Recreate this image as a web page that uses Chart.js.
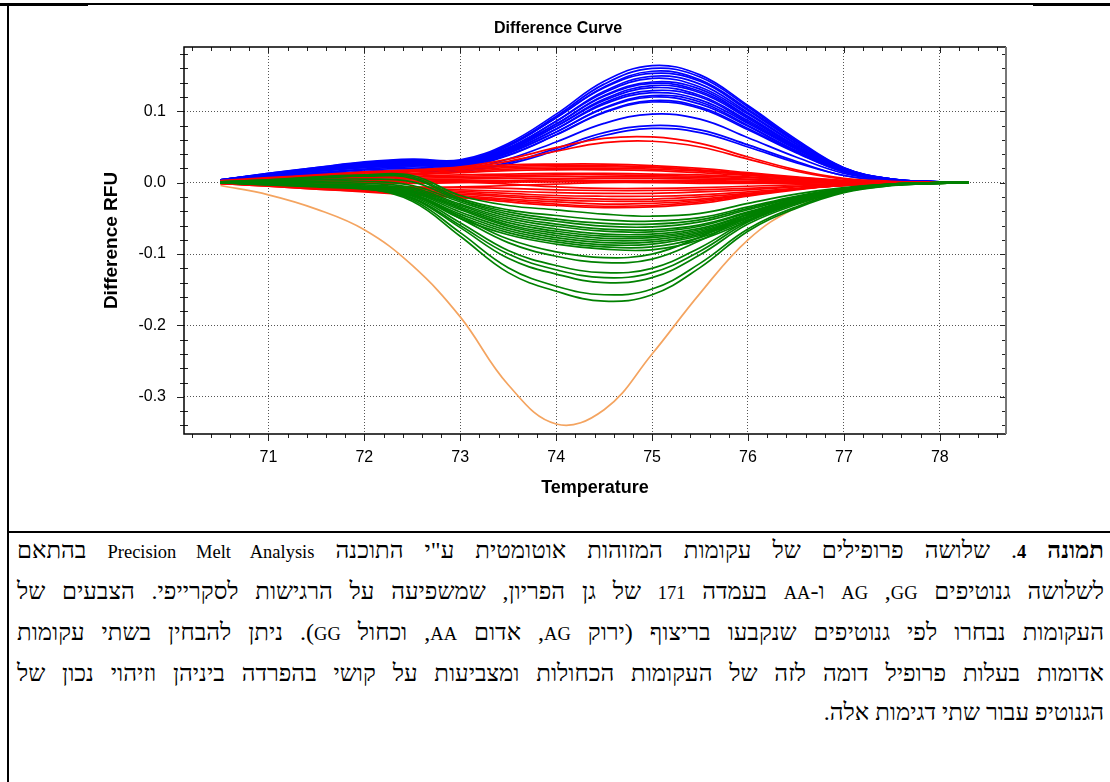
<!DOCTYPE html>
<html lang="he">
<head>
<meta charset="utf-8">
<title>Difference Curve</title>
<script src="https://cdn.jsdelivr.net/npm/chart.js@4.4.1/dist/chart.umd.min.js"></script>
<style>
    html, body {
        margin: 0;
        padding: 0;
        background: #fff;
    }
    #page {
        position: relative;
        width: 1110px;
        height: 782px;
        overflow: hidden;
    }
    #chart {
        position: absolute;
        left: 0;
        top: 0;
    }
    .rule {
        position: absolute;
        background: #000;
    }
    #caption {
        position: absolute;
        left: 17px;
        top: 531px;
        width: 1087px;
        direction: rtl;
        font-family: 'Liberation Serif', 'DejaVu Serif', serif;
        font-size: 24px;
        line-height: 39px;
        color: #000;
    }
    #caption .lat {
        font-size: 18.5px;
    }
    #caption .line {
        text-align: justify;
        text-align-last: justify;
        white-space: nowrap;
    }
    #caption .line.last {
        text-align-last: right;
    }
</style>
</head>
<body>
<div id="page">
    <div class="rule" style="left:0; top:3px; width:1110px; height:2px;"></div>
    <div class="rule" style="left:0; top:3px; width:88px; height:3px;"></div>
    <div class="rule" style="left:1033px; top:3px; width:77px; height:3px;"></div>
    <div class="rule" style="left:7px; top:3px; width:2px; height:779px;"></div>
    <div class="rule" style="left:7px; top:531px; width:1103px; height:2px;"></div>

    <canvas id="chart" width="1110" height="531"></canvas>

    <div id="caption">
        <div class="line"><b>תמונה <span class="lat">4</span></b>. שלושה פרופילים של עקומות המזוהות אוטומטית ע"י התוכנה <span class="lat">Precision Melt Analysis</span> בהתאם</div>
        <div class="line">לשלושה גנוטיפים <span class="lat">GG</span>,&rlm; <span class="lat">AG</span> ו-<span class="lat">AA</span> בעמדה <span class="lat">171</span> של גן הפריון, שמשפיעה על הרגישות לסקרייפי. הצבעים של</div>
        <div class="line">העקומות נבחרו לפי גנוטיפים שנקבעו בריצוף (ירוק <span class="lat">AG</span>, אדום <span class="lat">AA</span>, וכחול <span class="lat">GG</span>). ניתן להבחין בשתי עקומות</div>
        <div class="line">אדומות בעלות פרופיל דומה לזה של העקומות הכחולות ומצביעות על קושי בהפרדה ביניהן וזיהוי נכון של</div>
        <div class="line last">הגנוטיפ עבור שתי דגימות אלה.</div>
    </div>
</div>

<script>
const temps = [70.5, 71.0, 71.5, 72.0, 72.5, 73.0, 73.5, 74.0, 74.5, 75.0, 75.5, 76.0, 76.5, 77.0, 77.5, 78.0, 78.3];

// GG
const blueCurves = [
    [0.004, 0.013, 0.021, 0.029, 0.033, 0.032, 0.055, 0.096, 0.142, 0.164, 0.151, 0.108, 0.061, 0.021, 0.005, 0.001, 0],
    [0.004, 0.012, 0.020, 0.027, 0.031, 0.030, 0.053, 0.093, 0.138, 0.160, 0.148, 0.106, 0.059, 0.021, 0.005, 0.001, 0],
    [0.004, 0.012, 0.020, 0.026, 0.030, 0.029, 0.051, 0.091, 0.134, 0.156, 0.144, 0.103, 0.058, 0.020, 0.005, 0.001, 0],
    [0.004, 0.013, 0.021, 0.028, 0.032, 0.031, 0.052, 0.091, 0.133, 0.153, 0.142, 0.101, 0.057, 0.020, 0.005, 0.001, 0],
    [0.003, 0.011, 0.018, 0.025, 0.028, 0.027, 0.048, 0.086, 0.128, 0.149, 0.138, 0.098, 0.055, 0.019, 0.005, 0.001, 0],
    [0.004, 0.012, 0.020, 0.026, 0.030, 0.029, 0.049, 0.086, 0.126, 0.146, 0.134, 0.096, 0.054, 0.019, 0.005, 0.001, 0],
    [0.003, 0.011, 0.018, 0.024, 0.027, 0.026, 0.046, 0.082, 0.122, 0.141, 0.131, 0.093, 0.052, 0.018, 0.004, 0.001, 0],
    [0.003, 0.012, 0.019, 0.026, 0.029, 0.028, 0.048, 0.082, 0.121, 0.139, 0.128, 0.092, 0.051, 0.018, 0.004, 0.001, 0],
    [0.003, 0.010, 0.017, 0.023, 0.026, 0.025, 0.045, 0.079, 0.117, 0.136, 0.126, 0.090, 0.050, 0.018, 0.004, 0.001, 0],
    [0.003, 0.011, 0.018, 0.025, 0.028, 0.027, 0.046, 0.079, 0.115, 0.133, 0.122, 0.087, 0.049, 0.017, 0.004, 0.001, 0],
    [0.003, 0.010, 0.016, 0.022, 0.025, 0.024, 0.043, 0.075, 0.112, 0.129, 0.120, 0.085, 0.048, 0.017, 0.004, 0.001, 0],
    [0.003, 0.011, 0.018, 0.024, 0.027, 0.026, 0.044, 0.075, 0.110, 0.126, 0.116, 0.083, 0.047, 0.016, 0.004, 0.001, 0],
    [0.003, 0.010, 0.016, 0.021, 0.024, 0.023, 0.041, 0.071, 0.105, 0.122, 0.113, 0.080, 0.045, 0.016, 0.004, 0.001, 0],
    [0.003, 0.010, 0.017, 0.023, 0.026, 0.025, 0.042, 0.071, 0.104, 0.120, 0.110, 0.079, 0.044, 0.016, 0.004, 0.001, 0],
    [0.003, 0.009, 0.014, 0.019, 0.022, 0.021, 0.038, 0.067, 0.099, 0.115, 0.106, 0.076, 0.043, 0.015, 0.004, 0.001, 0],
    [0.003, 0.010, 0.016, 0.021, 0.024, 0.023, 0.039, 0.067, 0.098, 0.113, 0.104, 0.074, 0.042, 0.015, 0.004, 0.001, 0],
    [0.002, 0.008, 0.013, 0.018, 0.020, 0.019, 0.033, 0.057, 0.083, 0.096, 0.089, 0.063, 0.036, 0.013, 0.003, 0, 0],
    [0.002, 0.007, 0.012, 0.016, 0.018, 0.017, 0.028, 0.048, 0.070, 0.080, 0.074, 0.053, 0.030, 0.010, 0.003, 0, 0],
    [0.002, 0.006, 0.010, 0.014, 0.016, 0.016, 0.026, 0.045, 0.066, 0.076, 0.070, 0.050, 0.028, 0.010, 0.002, 0, 0],
];

// AA
const redCurves = [
    [0.003, 0.007, 0.011, 0.015, 0.018, 0.022, 0.033, 0.049, 0.062, 0.064, 0.055, 0.036, 0.018, 0.006, 0.002, 0, 0],
    [0.002, 0.006, 0.010, 0.014, 0.016, 0.020, 0.030, 0.044, 0.056, 0.058, 0.050, 0.033, 0.016, 0.005, 0.001, 0, 0],
    [0.002, 0.006, 0.010, 0.014, 0.017, 0.021, 0.025, 0.026, 0.026, 0.024, 0.020, 0.014, 0.008, 0.003, 0.001, 0, 0],
    [0.002, 0.005, 0.009, 0.012, 0.015, 0.019, 0.023, 0.024, 0.024, 0.022, 0.018, 0.013, 0.007, 0.003, 0.001, 0, 0],
    [0.001, 0.004, 0.007, 0.010, 0.013, 0.017, 0.021, 0.022, 0.022, 0.021, 0.017, 0.012, 0.007, 0.002, 0.001, 0, 0],
    [0.001, 0.004, 0.006, 0.009, 0.012, 0.015, 0.019, 0.020, 0.020, 0.019, 0.016, 0.011, 0.006, 0.002, 0.001, 0, 0],
    [0.001, 0.003, 0.005, 0.008, 0.011, 0.014, 0.017, 0.018, 0.018, 0.017, 0.014, 0.010, 0.006, 0.002, 0.001, 0, 0],
    [0.001, 0.003, 0.005, 0.007, 0.009, 0.011, 0.012, 0.013, 0.013, 0.012, 0.011, 0.008, 0.005, 0.002, 0.001, 0, 0],
    [0.001, 0.002, 0.004, 0.006, 0.008, 0.009, 0.010, 0.011, 0.011, 0.010, 0.009, 0.007, 0.004, 0.002, 0, 0, 0],
    [0.001, 0.002, 0.003, 0.004, 0.006, 0.007, 0.008, 0.009, 0.008, 0.008, 0.007, 0.005, 0.003, 0.001, 0, 0, 0],
    [0, 0.001, 0.002, 0.003, 0.004, 0.005, 0.006, 0.006, 0.006, 0.006, 0.005, 0.004, 0.002, 0.001, 0, 0, 0],
    [0, 0.001, 0.001, 0.002, 0.002, 0.003, 0.003, 0.004, 0.003, 0.003, 0.003, 0.002, 0.001, 0.001, 0, 0, 0],
    [0, 0, 0, 0, 0.001, 0.001, 0.001, 0.001, 0.001, 0.001, 0.001, 0.001, 0, 0, 0, 0, 0],
    [0, -0.001, -0.001, -0.001, -0.001, 0, 0.001, 0.002, 0.002, 0.001, 0.001, 0, 0, 0, 0, 0, 0],
    [0, -0.002, -0.004, -0.006, -0.007, -0.006, -0.004, -0.002, 0, 0, -0.001, -0.001, -0.001, 0, 0, 0, 0],
    [0, 0, 0.001, 0.002, 0.002, 0.001, -0.002, -0.006, -0.008, -0.008, -0.007, -0.005, -0.003, -0.001, 0, 0, 0],
    [0, -0.002, -0.003, -0.005, -0.006, -0.007, -0.008, -0.010, -0.011, -0.011, -0.010, -0.008, -0.005, -0.002, -0.001, 0, 0],
    [0, -0.002, -0.004, -0.006, -0.008, -0.010, -0.012, -0.014, -0.015, -0.015, -0.013, -0.010, -0.006, -0.003, -0.001, 0, 0],
    [-0.001, -0.003, -0.005, -0.007, -0.009, -0.012, -0.015, -0.018, -0.019, -0.019, -0.017, -0.013, -0.008, -0.003, -0.001, 0, 0],
    [-0.001, -0.003, -0.006, -0.009, -0.011, -0.014, -0.018, -0.021, -0.023, -0.023, -0.020, -0.015, -0.009, -0.004, -0.001, 0, 0],
    [-0.001, -0.004, -0.007, -0.010, -0.013, -0.016, -0.020, -0.024, -0.026, -0.026, -0.023, -0.016, -0.009, -0.004, -0.001, 0, 0],
    [-0.001, -0.004, -0.008, -0.011, -0.014, -0.018, -0.023, -0.027, -0.030, -0.029, -0.025, -0.017, -0.009, -0.004, -0.001, 0, 0],
    [-0.001, -0.005, -0.009, -0.012, -0.016, -0.020, -0.025, -0.030, -0.033, -0.032, -0.027, -0.018, -0.009, -0.004, -0.001, 0, 0],
    [-0.001, -0.005, -0.009, -0.013, -0.017, -0.021, -0.027, -0.032, -0.035, -0.034, -0.029, -0.019, -0.010, -0.004, -0.001, 0, 0],
];

// AG
const greenCurves = [
    [0.001, 0.004, 0.008, 0.011, 0.010, -0.018, -0.032, -0.038, -0.044, -0.047, -0.043, -0.029, -0.016, -0.007, -0.002, 0, 0],
    [0.001, 0.004, 0.007, 0.010, 0.008, -0.022, -0.038, -0.046, -0.052, -0.054, -0.049, -0.034, -0.019, -0.008, -0.002, 0, 0],
    [0.001, 0.003, 0.006, 0.009, 0.006, -0.024, -0.041, -0.051, -0.057, -0.058, -0.052, -0.036, -0.020, -0.008, -0.002, 0, 0],
    [0, 0.002, 0.004, 0.005, 0.001, -0.025, -0.044, -0.054, -0.061, -0.062, -0.055, -0.038, -0.021, -0.009, -0.002, 0, 0],
    [0, 0.001, 0.002, 0.002, -0.004, -0.027, -0.047, -0.058, -0.065, -0.066, -0.059, -0.041, -0.022, -0.009, -0.002, 0, 0],
    [0, 0, 0, -0.001, -0.007, -0.030, -0.050, -0.061, -0.068, -0.069, -0.061, -0.042, -0.023, -0.009, -0.002, 0, 0],
    [0, -0.001, -0.002, -0.003, -0.009, -0.032, -0.053, -0.065, -0.072, -0.072, -0.064, -0.044, -0.024, -0.010, -0.003, 0, 0],
    [0, -0.001, -0.003, -0.005, -0.011, -0.034, -0.056, -0.068, -0.075, -0.075, -0.066, -0.045, -0.025, -0.010, -0.003, 0, 0],
    [0, -0.002, -0.003, -0.005, -0.012, -0.036, -0.059, -0.071, -0.078, -0.077, -0.068, -0.047, -0.026, -0.010, -0.003, 0, 0],
    [0, -0.002, -0.004, -0.006, -0.013, -0.038, -0.061, -0.074, -0.081, -0.080, -0.070, -0.048, -0.026, -0.011, -0.003, 0, 0],
    [0, -0.002, -0.004, -0.007, -0.014, -0.041, -0.064, -0.077, -0.084, -0.083, -0.072, -0.049, -0.027, -0.011, -0.003, 0, 0],
    [0, -0.002, -0.005, -0.008, -0.016, -0.044, -0.067, -0.080, -0.087, -0.086, -0.074, -0.050, -0.027, -0.011, -0.003, 0, 0],
    [0, -0.003, -0.005, -0.008, -0.017, -0.047, -0.070, -0.083, -0.090, -0.090, -0.077, -0.052, -0.028, -0.011, -0.003, 0, 0],
    [0, -0.003, -0.006, -0.009, -0.018, -0.050, -0.073, -0.086, -0.093, -0.094, -0.080, -0.054, -0.029, -0.012, -0.003, 0, 0],
    [0, -0.001, -0.003, -0.006, -0.016, -0.047, -0.079, -0.097, -0.105, -0.100, -0.076, -0.044, -0.023, -0.010, -0.003, 0, 0],
    [0, -0.001, -0.003, -0.006, -0.017, -0.050, -0.084, -0.103, -0.112, -0.107, -0.081, -0.047, -0.025, -0.010, -0.003, 0, 0],
    [0, -0.002, -0.003, -0.007, -0.019, -0.056, -0.095, -0.116, -0.126, -0.120, -0.091, -0.053, -0.028, -0.011, -0.003, -0.001, 0],
    [0, -0.002, -0.004, -0.007, -0.021, -0.060, -0.100, -0.122, -0.133, -0.126, -0.096, -0.055, -0.029, -0.012, -0.003, -0.001, 0],
    [0, -0.002, -0.004, -0.007, -0.022, -0.063, -0.106, -0.128, -0.140, -0.133, -0.101, -0.058, -0.031, -0.012, -0.003, -0.001, 0],
    [0, -0.002, -0.004, -0.008, -0.024, -0.070, -0.119, -0.145, -0.157, -0.149, -0.113, -0.065, -0.034, -0.013, -0.004, -0.001, 0],
    [0, -0.002, -0.004, -0.008, -0.026, -0.075, -0.126, -0.152, -0.166, -0.157, -0.119, -0.068, -0.036, -0.014, -0.004, -0.001, 0],
];

// reference sample
const orangeCurve = [-0.004, -0.017, -0.037, -0.066, -0.116, -0.188, -0.283, -0.338, -0.318, -0.240, -0.155, -0.080, -0.035, -0.012, -0.003, -0.001, 0];

const xTickValues = [71, 72, 73, 74, 75, 76, 77, 78];
const yTickValues = [-0.3, -0.2, -0.1, 0.0, 0.1];

const COLORS = { blue: '#0000ff', red: '#ff0000', green: '#008000', orange: '#f4a460' };
const FONT = "'Liberation Sans', Arial, sans-serif";

function curveDataset(values, color) {
    return {
        data: temps.map((t, i) => ({ x: t, y: values[i] })),
        borderColor: color,
        borderWidth: 1.7,
        pointRadius: 0,
        tension: 0.4,
        fill: false,
    };
}

// first dataset ends up on top
const datasets = [
    ...greenCurves.map((c) => curveDataset(c, COLORS.green)),
    ...redCurves.map((c) => curveDataset(c, COLORS.red)),
    ...blueCurves.map((c) => curveDataset(c, COLORS.blue)),
    curveDataset(orangeCurve, COLORS.orange),
];

// frame with matlab-like tick marks on all four sides
const frameTicks = {
    id: 'frameTicks',
    afterDatasetsDraw(chart) {
        const { ctx, chartArea: a, scales } = chart;
        const xs = scales.x;
        const ys = scales.y;
        ctx.save();
        ctx.strokeStyle = '#222';
        ctx.lineWidth = 1;

        ctx.beginPath();
        for (let v = 70.2; v < xs.max; v += 0.2) {
            const px = Math.round(xs.getPixelForValue(v)) + 0.5;
            const major = Math.abs(v - Math.round(v)) < 0.01;
            ctx.moveTo(px, a.bottom);
            ctx.lineTo(px, a.bottom + (major ? 7 : 4));
            ctx.moveTo(px, a.top);
            ctx.lineTo(px, a.top + (major ? 6 : 4));
        }
        for (let v = -0.34; v < ys.max; v += 0.02) {
            const py = Math.round(ys.getPixelForValue(v)) + 0.5;
            const major = Math.abs(v * 10 - Math.round(v * 10)) < 0.01;
            if (major) {
                ctx.moveTo(a.left - 7, py);
                ctx.lineTo(a.left, py);
            } else {
                ctx.moveTo(a.left - 4, py);
                ctx.lineTo(a.left + 4, py);
            }
            ctx.moveTo(a.right, py);
            ctx.lineTo(a.right - (major ? 6 : 4), py);
        }
        ctx.stroke();

        ctx.lineWidth = 1.5;
        ctx.strokeStyle = '#000';
        ctx.beginPath();
        ctx.moveTo(a.right, a.top);
        ctx.lineTo(a.left, a.top);
        ctx.lineTo(a.left, a.bottom);
        ctx.lineTo(a.right, a.bottom);
        ctx.stroke();
        ctx.strokeStyle = '#777';
        ctx.lineWidth = 2;
        ctx.beginPath();
        ctx.moveTo(a.right, a.top);
        ctx.lineTo(a.right, a.bottom);
        ctx.stroke();
        ctx.restore();
    },
};

new Chart(document.getElementById('chart'), {
    type: 'line',
    data: { datasets },
    plugins: [frameTicks],
    options: {
        responsive: false,
        animation: false,
        devicePixelRatio: 1,
        layout: { padding: { left: 110, right: 104, top: 19, bottom: 0 } },
        plugins: {
            legend: { display: false },
            tooltip: { enabled: false },
            title: {
                display: true,
                text: 'Difference Curve',
                color: '#000',
                font: { family: FONT, size: 16, weight: 'bold' },
                padding: { top: 0, bottom: 8.8 },
            },
        },
        scales: {
            x: {
                type: 'linear',
                min: 70.12,
                max: 78.69,
                afterBuildTicks: (scale) => {
                    scale.ticks = xTickValues.map((v) => ({ value: v }));
                },
                afterFit: (scale) => {
                    scale.height = 97;
                },
                ticks: {
                    color: '#000',
                    font: { family: FONT, size: 16 },
                    padding: 14,
                    maxRotation: 0,
                    callback: (v) => String(v),
                },
                grid: { color: '#555', lineWidth: 1, drawTicks: false },
                border: { display: false, dash: [1, 2] },
                title: {
                    display: true,
                    text: 'Temperature',
                    color: '#000',
                    font: { family: FONT, size: 18, weight: 'bold' },
                    padding: { top: 0, bottom: 32 },
                },
            },
            y: {
                type: 'linear',
                min: -0.352,
                max: 0.19,
                afterBuildTicks: (scale) => {
                    scale.ticks = yTickValues.map((v) => ({ value: v }));
                },
                afterFit: (scale) => {
                    scale.width = 74;
                },
                ticks: {
                    color: '#000',
                    font: { family: FONT, size: 16 },
                    padding: 18,
                    callback: (v) => v.toFixed(1),
                },
                grid: { color: '#555', lineWidth: 1, drawTicks: false },
                border: { display: false, dash: [1, 2] },
                title: {
                    display: true,
                    text: 'Difference RFU',
                    color: '#000',
                    font: { family: FONT, size: 19, weight: 'bold' },
                    padding: { top: -9.4, bottom: 0 },
                },
            },
        },
    },
});
</script>
</body>
</html>
